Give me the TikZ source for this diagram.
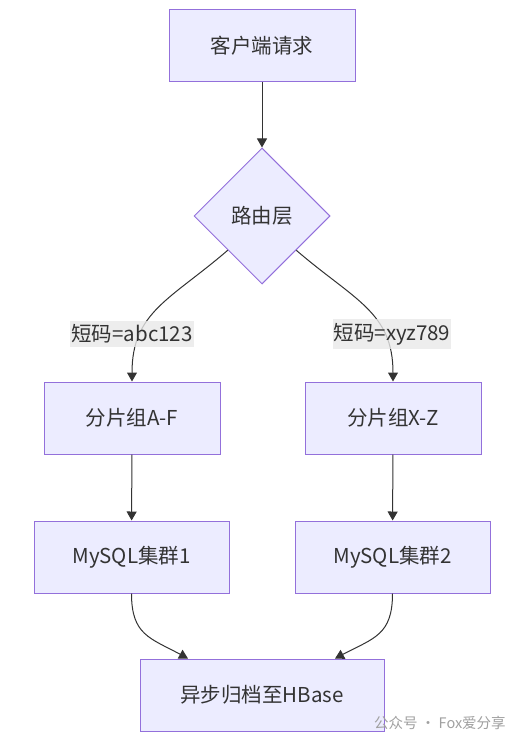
\documentclass[tikz,border=0pt]{standalone}
\usepackage{fontspec}
\setmainfont{Noto Sans CJK SC}
\usetikzlibrary{arrows.meta, shapes.geometric}
\definecolor{boxfill}{HTML}{ECECFF}
\definecolor{boxline}{HTML}{9370DB}
\definecolor{ink}{HTML}{333333}
\definecolor{labelbg}{HTML}{E8E8E8}
\definecolor{wmark}{HTML}{A0A0A0}
\begin{document}
\begin{tikzpicture}[x=1pt, y=-1pt,
  box/.style={draw=boxline, fill=boxfill, line width=1pt, minimum height=72pt, inner sep=0pt, text=ink, font=\fontsize{20.5}{24}\selectfont},
  edgelab/.style={fill=labelbg, fill opacity=0.8, text opacity=1, text=ink, inner xsep=1pt, inner ysep=4pt, font=\fontsize{20.5}{24}\selectfont},
  flow/.style={draw=ink, line width=1pt, -{Triangle[length=9pt, width=10pt]}}]
\useasboundingbox (0,0) rectangle (521,746);
% nodes
\node[box, minimum width=186pt] (req) at (262,46) {客户端请求};
\node[box, diamond, aspect=1, minimum width=136pt, minimum height=136pt] (route) at (262,216) {路由层};
\node[box, minimum width=176pt] (af) at (132,418) {分片组A-F};
\node[box, minimum width=176pt] (xz) at (393,418) {分片组X-Z};
\node[box, minimum width=195pt] (my1) at (131.5,557) {MySQL集群1};
\node[box, minimum width=195pt] (my2) at (392.5,557) {MySQL集群2};
\node[box, minimum width=244pt] (hb) at (262,695) {异步归档至HBase};
% connectors
\draw[flow] (req) -- (route.north);
\draw[flow] (route.south west) .. controls (170,300) and (132,312) .. (af.north);
\draw[flow] (route.south east) .. controls (354,300) and (393,312) .. (xz.north);
\draw[flow] (af) -- (my1);
\draw[flow] (xz) -- (my2);
\draw[flow] (my1.south) .. controls (131.5,635) and (150,638) .. ([xshift=-74pt]hb.north);
\draw[flow] (my2.south) .. controls (392.5,635) and (374,638) .. ([xshift=73pt]hb.north);
% edge labels
\node[edgelab] (lab1) at (132,334) {短码=abc123};
\node[edgelab] (lab2) at (392,334) {短码=xyz789};
% watermark
\node[anchor=west, text=wmark, inner sep=0pt, font=\fontsize{14.5}{17}\selectfont] (wm) at (374,723) {公众号 · Fox爱分享};
\end{tikzpicture}
\end{document}
